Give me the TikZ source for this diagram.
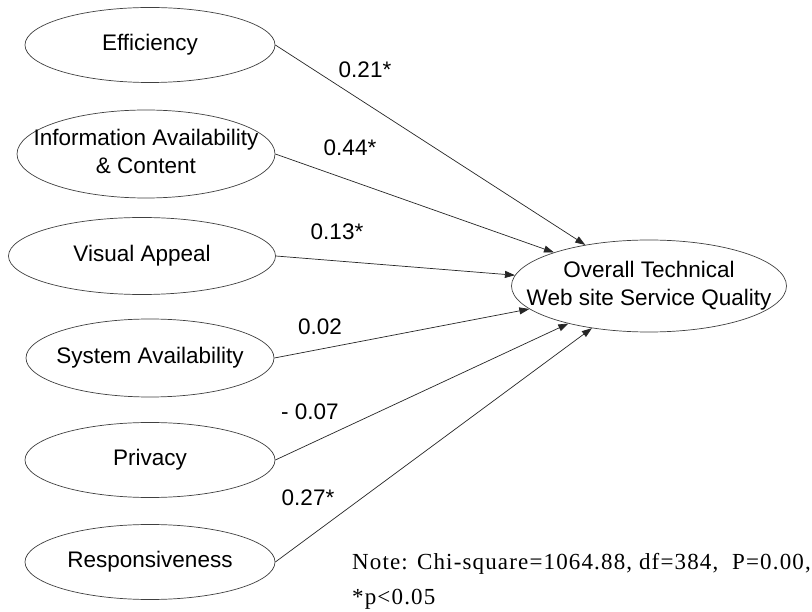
\documentclass[tikz,border=0pt]{standalone}
\usepackage{fontspec}
\setmainfont{Liberation Serif}
\setsansfont{Liberation Sans}
\newfontfamily\notefont[LetterSpace=5]{Liberation Serif}
\usetikzlibrary{arrows.meta}
\usetikzlibrary{positioning}
\usetikzlibrary{shapes}
% keep the text from widening the ellipses
\newcommand{\zerowd}[1]{\makebox[0pt]{\begin{tabular}{@{}c@{}}#1\end{tabular}}}

\begin{document}
\begin{tikzpicture}[x=1pt,y=1pt,node distance=102pt,
    latent/.style={draw=black!75,line width=0.7pt,ellipse,inner sep=0pt,
      minimum width=250pt,minimum height=75pt,
      font=\sffamily\fontsize{22.5}{28}\selectfont},
    coef/.style={font=\sffamily\fontsize{22.5}{26}\selectfont,inner sep=0pt},
    path/.style={draw=black!85,line width=0.7pt,-{Triangle[length=10pt,width=7pt]}}]
          \fill[white] (0,0) rectangle (812,-612);
          \node[latent] (eff) at (150,-45) {\zerowd{Efficiency}};
          \node[latent,below of=eff,yshift=-7pt,xshift=-4pt,minimum width=258pt,minimum height=88pt] (info) {\zerowd{Information Availability\\\& Content}};
          \node[latent,below of=info,xshift=-4pt,minimum width=267pt,minimum height=77pt] (visual) {\zerowd{Visual Appeal}};
          \node[latent,below of=visual,xshift=8pt,minimum width=248pt,minimum height=78pt] (sysav) {\zerowd{System Availability}};
          \node[latent,below of=sysav] (privacy) {\zerowd{Privacy}};
          \node[latent,below of=privacy] (resp) {\zerowd{Responsiveness}};
          \node[latent,minimum width=275pt,minimum height=92pt] (quality) at (649,-286) {\zerowd{Overall Technical\\Web site Service Quality}};
          \draw[path] (eff.east) -- (quality);
          \draw[path] (info.east) -- (quality);
          \draw[path] (visual.east) -- (quality);
          \draw[path] (sysav.east) -- (quality);
          \draw[path] (privacy.east) -- (quality);
          \draw[path] (resp.east) -- (quality);
          \node[coef] (c1) at (365,-70) {0.21*};
          \node[coef] (c2) at (350,-148) {0.44*};
          \node[coef] (c3) at (337,-232) {0.13*};
          \node[coef] (c4) at (320,-327) {0.02};
          \node[coef] (c5) at (310,-412) {- 0.07};
          \node[coef] (c6) at (308,-498) {0.27*};
          \node[anchor=north west,align=left,inner sep=0pt,font=\notefont\fontsize{23}{35}\selectfont] (note) at (352,-553) {Note: Chi-square=1064.88, df=384,~ P=0.00,\\*p<0.05};
        \end{tikzpicture}
\end{document}
